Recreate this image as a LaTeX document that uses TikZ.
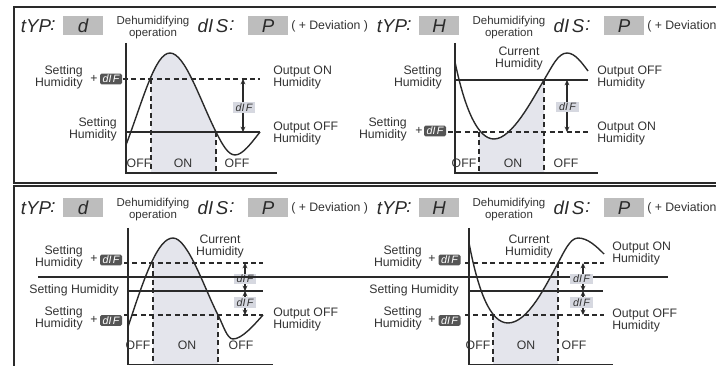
\documentclass[tikz,border=0pt]{standalone}
\usepackage{fontspec}
\setmainfont{Liberation Sans}
\usetikzlibrary{arrows.meta}
\definecolor{txt}{HTML}{333333}
\definecolor{ln}{HTML}{2A2A2A}
\definecolor{boxg}{HTML}{BDBDBD}
\definecolor{darkb}{HTML}{555555}
\definecolor{lightb}{HTML}{D6D8E0}
\definecolor{shadec}{HTML}{E4E5EC}
\tikzset{
  lab/.style={font=\fontsize{9.2}{9}\selectfont, text=txt, inner sep=0pt},
  opl/.style={font=\fontsize{8.6}{7.6}\selectfont, text=txt, align=center, inner sep=0pt},
  seg/.style={font=\itshape\fontsize{14}{14}\selectfont, text=ln, inner sep=0pt},
  segbox/.style={fill=boxg, minimum width=30pt, minimum height=14.25pt, inner sep=0pt,
    font=\itshape\fontsize{14}{14}\selectfont, text=ln},
  dkbox/.style={fill=darkb, rounded corners=1pt, minimum width=16.5pt, minimum height=7.9pt,
    inner sep=0pt, text=white, font=\itshape\fontsize{8}{8}\selectfont},
  ltbox/.style={fill=lightb, minimum width=17pt, minimum height=8.2pt, inner sep=0pt,
    text=txt, font=\itshape\fontsize{8}{8}\selectfont},
  axisln/.style={draw=ln, line width=1pt},
  thk/.style={draw=ln, line width=1.5pt},
  svln/.style={draw=ln, line width=1.1pt},
  dsh/.style={draw=ln, line width=0.85pt, dash pattern=on 3.75pt off 2.6pt},
  crv/.style={draw=ln, line width=1.05pt},
  dar/.style={draw=ln, line width=0.9pt, {Stealth[length=4pt,width=3.6pt]}-{Stealth[length=4pt,width=3.6pt]}},
  frm/.style={draw=ln, line width=1.5pt},
}
\newcommand\hdr[5]{%
\begin{scope}[name prefix=#1-, shift={(#2,#3)}]
  \node[seg] (typ) at (36,0) {tYP};
  \node[seg] (c1) at (53,0) {:};
  \node[segbox] (tv) at (83,0) {#4};
  \node[opl] (op) at (153,2) {Dehumidifying\\operation};
  \node[seg] (dis) at (213,0) {dI\kern2pt S};
  \node[seg] (c2) at (232,0) {:};
  \node[segbox] (dv) at (268,0) {P};
  \node[lab, anchor=west] (dev) at (291,0) {#5};
\end{scope}}
\begin{document}
\begin{tikzpicture}[x=0.75pt,y=-0.75pt]
\useasboundingbox (0,0) rectangle (716,366);
% frames
\draw[frm] (716,7) -- (14,7) -- (14,183) -- (716,183);
\draw[frm] (716,186) -- (14,186) -- (14,366);
% headers
\hdr{h1}{0}{26}{d}{( + Deviation )}
\hdr{h2}{356}{26}{H}{( + Deviation}
\hdr{h3}{0}{208}{d}{( + Deviation )}
\hdr{h4}{356}{208}{H}{( + Deviation}

% ================= TL =================
\begin{scope}
\clip (151,40) rectangle (216,173);
\fill[shadec] (126,173) -- (126,145) .. controls (143,100) and (155,53) .. (170,53) .. controls (185,53) and (200,100) .. (216,132) -- (216,173) -- cycle;
\end{scope}
\coordinate (tl-yt) at (126,43); \coordinate (tl-o) at (126,173); \coordinate (tl-xe) at (277,173);
\coordinate (tl-d1s) at (123,79); \coordinate (tl-d1e) at (260,79);
\coordinate (tl-s1s) at (126,132); \coordinate (tl-s1e) at (260,132);
\coordinate (tl-v1t) at (151,79); \coordinate (tl-v1b) at (151,173);
\coordinate (tl-v2t) at (216,132); \coordinate (tl-v2b) at (216,173);
\coordinate (tl-at) at (243,79); \coordinate (tl-ab) at (243,132);
\draw[axisln] (tl-yt) -- (tl-o) -- (tl-xe);
\draw[dsh] (tl-d1s) -- (tl-d1e);
\draw[dsh] (tl-v1t) -- (tl-v1b);
\draw[dsh] (tl-v2t) -- (tl-v2b);
\draw[thk] (tl-s1s) -- (tl-s1e);
\draw[crv] (126,145) .. controls (143,100) and (155,53) .. (170,53) .. controls (185,53) and (200,100) .. (216,132) .. controls (222,144) and (228,155) .. (235,155) .. controls (243,155) and (252,142) .. (260,132);
\draw[dar] (tl-at) -- (tl-ab);
\node[ltbox] (tl-lb) at (244,107.5) {dI\kern1pt F};
\node[lab, align=right, anchor=east] (tl-l1) at (83,77) {Setting\\Humidity};
\node[lab] (tl-p1) at (94,79) {+};
\node[dkbox] (tl-k1) at (111,79) {dI\kern1pt F};
\node[lab, align=right, anchor=east] (tl-l2) at (117,129.5) {Setting\\Humidity};
\node[lab, align=left, anchor=west] (tl-r1) at (273,77) {Output ON\\Humidity};
\node[lab, align=left, anchor=west] (tl-r2) at (273,133) {Output OFF\\Humidity};
\node[lab] (tl-off1) at (139,163) {OFF};
\node[lab] (tl-on) at (183,163) {ON};
\node[lab] (tl-off2) at (237,163) {OFF};

% ================= TR =================
\begin{scope}
\clip (479,40) rectangle (544,173);
\fill[shadec] (455,173) -- (455,62) .. controls (465,110) and (478,139) .. (494,139) .. controls (512,139) and (532,100) .. (544,80) -- (544,173) -- cycle;
\end{scope}
\coordinate (tr-yt) at (455,43); \coordinate (tr-o) at (455,173); \coordinate (tr-xe) at (598,173);
\coordinate (tr-s1s) at (455,80); \coordinate (tr-s1e) at (588,80);
\coordinate (tr-d1s) at (448,132); \coordinate (tr-d1e) at (588,132);
\coordinate (tr-v1t) at (479,132); \coordinate (tr-v1b) at (479,173);
\coordinate (tr-v2t) at (544,80); \coordinate (tr-v2b) at (544,173);
\coordinate (tr-at) at (567,80); \coordinate (tr-ab) at (567,132);
\draw[axisln] (tr-yt) -- (tr-o) -- (tr-xe);
\draw[dsh] (tr-d1s) -- (tr-d1e);
\draw[dsh] (tr-v1t) -- (tr-v1b);
\draw[dsh] (tr-v2t) -- (tr-v2b);
\draw[thk] (tr-s1s) -- (tr-s1e);
\draw[crv] (455,62) .. controls (465,110) and (478,139) .. (494,139) .. controls (512,139) and (532,100) .. (544,80) .. controls (552,66.7) and (558,53) .. (567,53) .. controls (575,53) and (582,63) .. (588,71);
\draw[dar] (tr-at) -- (tr-ab);
\node[ltbox] (tr-lb) at (567.5,107) {dI\kern1pt F};
\node[lab, align=center] (tr-cur) at (519,58.5) {Current\\Humidity};
\node[lab, align=right, anchor=east] (tr-l1) at (442,77) {Setting\\Humidity};
\node[lab, align=right, anchor=east] (tr-l2) at (407,129.5) {Setting\\Humidity};
\node[lab] (tr-p1) at (419,131) {+};
\node[dkbox] (tr-k1) at (435,131) {dI\kern1pt F};
\node[lab, align=left, anchor=west] (tr-r1) at (597,77) {Output OFF\\Humidity};
\node[lab, align=left, anchor=west] (tr-r2) at (597,133) {Output ON\\Humidity};
\node[lab] (tr-off1) at (464,163) {OFF};
\node[lab] (tr-on) at (513,163) {ON};
\node[lab] (tr-off2) at (566,163) {OFF};

% ================= BL =================
\begin{scope}
\clip (153,220) rectangle (218,364.5);
\fill[shadec] (128,364.5) -- (128,327) .. controls (145,275) and (158,238) .. (173,238) .. controls (188,238) and (205,290) .. (218,315) -- (218,364.5) -- cycle;
\end{scope}
\coordinate (bl-yt) at (128,228); \coordinate (bl-o) at (128,364.5); \coordinate (bl-xe) at (273,364.5);
\coordinate (bl-d1s) at (124,263); \coordinate (bl-d1e) at (263,263);
\coordinate (bl-sv-s) at (128,291); \coordinate (bl-sv-e) at (263,291);
\coordinate (bl-d2s) at (124,315); \coordinate (bl-d2e) at (263,315);
\coordinate (long-s) at (38,277); \coordinate (long-e) at (668,277);
\coordinate (bl-v1t) at (153,263); \coordinate (bl-v1b) at (153,364.5);
\coordinate (bl-v2t) at (218,315); \coordinate (bl-v2b) at (218,364.5);
\coordinate (bl-a1) at (245,263); \coordinate (bl-a2) at (245,291); \coordinate (bl-a3) at (245,315);
\draw[axisln] (bl-yt) -- (bl-o) -- (bl-xe);
\draw[dsh] (bl-d1s) -- (bl-d1e);
\draw[dsh] (bl-d2s) -- (bl-d2e);
\draw[dsh] (bl-v1t) -- (bl-v1b);
\draw[dsh] (bl-v2t) -- (bl-v2b);
\draw[svln] (bl-sv-s) -- (bl-sv-e);
\draw[thk] (long-s) -- (long-e);
\draw[crv] (128,327) .. controls (145,275) and (158,238) .. (173,238) .. controls (188,238) and (205,290) .. (218,315) .. controls (223,324.6) and (227,339) .. (233,339) .. controls (242,339) and (254,325) .. (263,315);
\draw[dar] (bl-a1) -- (bl-a2);
\draw[dar] (bl-a2) -- (bl-a3);
\node[ltbox] (bl-lb1) at (245,279) {dI\kern1pt F};
\node[ltbox] (bl-lb2) at (245,302.5) {dI\kern1pt F};
\node[lab, align=right, anchor=east] (bl-l1) at (83,257) {Setting\\Humidity};
\node[lab] (bl-p1) at (94,259) {+};
\node[dkbox] (bl-k1) at (111,260) {dI\kern1pt F};
\node[lab, anchor=east] (bl-l2) at (119,290) {Setting Humidity};
\node[lab, align=right, anchor=east] (bl-l3) at (83,318) {Setting\\Humidity};
\node[lab] (bl-p2) at (94,320) {+};
\node[dkbox] (bl-k2) at (111,320.5) {dI\kern1pt F};
\node[lab, align=center] (bl-cur) at (220,246.5) {Current\\Humidity};
\node[lab, align=left, anchor=west] (bl-r1) at (273,319.5) {Output OFF\\Humidity};
\node[lab] (bl-off1) at (138,345) {OFF};
\node[lab] (bl-on) at (187,345) {ON};
\node[lab] (bl-off2) at (241,345) {OFF};

% ================= BR =================
\begin{scope}
\clip (493,220) rectangle (558,364.5);
\fill[shadec] (469,364.5) -- (469,243) .. controls (478,290) and (490,323) .. (508,323) .. controls (528,323) and (546,285) .. (558,263) -- (558,364.5) -- cycle;
\end{scope}
\coordinate (br-yt) at (469,228); \coordinate (br-o) at (469,364.5); \coordinate (br-xe) at (613,364.5);
\coordinate (br-d1s) at (465,263); \coordinate (br-d1e) at (604,263);
\coordinate (br-sv-s) at (469,291); \coordinate (br-sv-e) at (603,291);
\coordinate (br-d2s) at (465,315); \coordinate (br-d2e) at (604,315);
\coordinate (br-v1t) at (493,315); \coordinate (br-v1b) at (493,364.5);
\coordinate (br-v2t) at (558,263); \coordinate (br-v2b) at (558,364.5);
\coordinate (br-a1) at (583,263); \coordinate (br-a2) at (583,291); \coordinate (br-a3) at (583,315);
\draw[axisln] (br-yt) -- (br-o) -- (br-xe);
\draw[dsh] (br-d1s) -- (br-d1e);
\draw[dsh] (br-d2s) -- (br-d2e);
\draw[dsh] (br-v1t) -- (br-v1b);
\draw[dsh] (br-v2t) -- (br-v2b);
\draw[svln] (br-sv-s) -- (br-sv-e);
\draw[thk] (long-s) -- (long-e);
\draw[crv] (469,243) .. controls (478,290) and (490,323) .. (508,323) .. controls (528,323) and (546,285) .. (558,263) .. controls (564,252) and (570,238) .. (578,238) .. controls (588,238) and (597,247) .. (604,254);
\draw[dar] (br-a1) -- (br-a2);
\draw[dar] (br-a2) -- (br-a3);
\node[ltbox] (br-lb1) at (581.5,279) {dI\kern1pt F};
\node[ltbox] (br-lb2) at (581.5,302.5) {dI\kern1pt F};
\node[lab, align=right, anchor=east] (br-l1) at (422,257) {Setting\\Humidity};
\node[lab] (br-p1) at (432,259) {+};
\node[dkbox] (br-k1) at (449.5,260) {dI\kern1pt F};
\node[lab, anchor=east] (br-l2) at (459,290) {Setting Humidity};
\node[lab, align=right, anchor=east] (br-l3) at (422,318) {Setting\\Humidity};
\node[lab] (br-p2) at (432,320) {+};
\node[dkbox] (br-k2) at (449.5,320.5) {dI\kern1pt F};
\node[lab, align=center] (br-cur) at (529,246.5) {Current\\Humidity};
\node[lab, align=left, anchor=west] (br-r1) at (612,253.5) {Output ON\\Humidity};
\node[lab, align=left, anchor=west] (br-r2) at (612,320) {Output OFF\\Humidity};
\node[lab] (br-off1) at (478,345) {OFF};
\node[lab] (br-on) at (526,345) {ON};
\node[lab] (br-off2) at (574,345) {OFF};
\end{tikzpicture}
\end{document}
